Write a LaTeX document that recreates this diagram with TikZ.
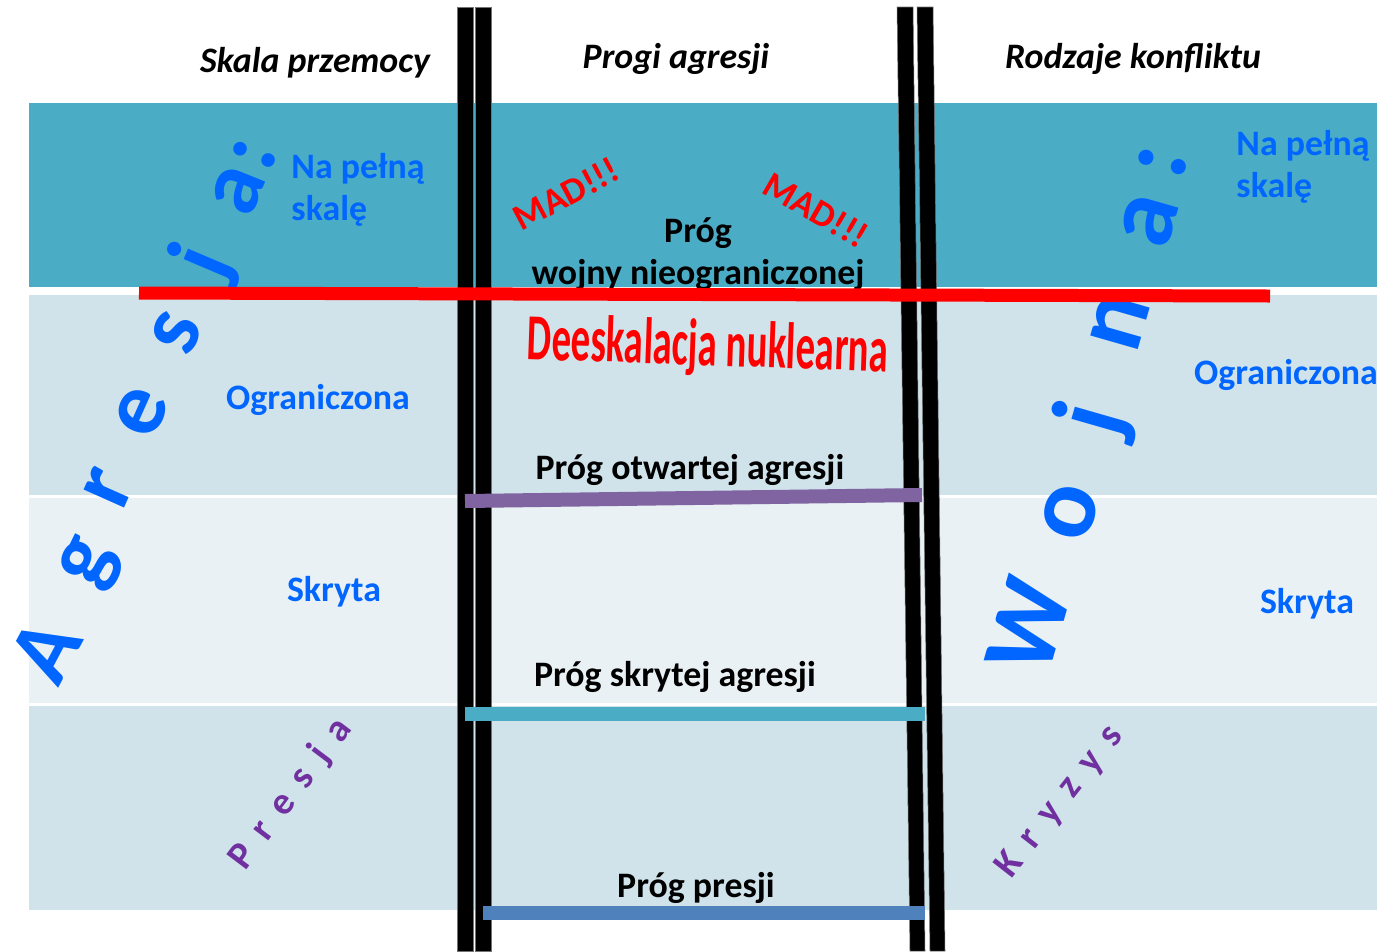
\documentclass[tikz,border=0pt]{standalone}
\usepackage{fontspec}
\usepackage{graphicx}
\setmainfont{Carlito}
\definecolor{bandtop}{HTML}{4BACC6}
\definecolor{bandmid}{HTML}{D0E3EA}
\definecolor{bandlow}{HTML}{E9F1F5}
\definecolor{kindblue}{HTML}{0066FF}
\definecolor{kindpurple}{HTML}{7030A0}
\definecolor{rungpurple}{HTML}{8064A2}
\definecolor{rungblue}{HTML}{4F81BD}

\begin{document}
\begin{tikzpicture}[x=0.02cm,y=-0.02cm,
  lbl/.style={inner sep=0pt,font=\fontsize{20.4}{23.8}\selectfont\bfseries},
  head/.style={inner sep=0pt,font=\fontsize{20.4}{23.8}\selectfont\bfseries\itshape},
  kind/.style={lbl,text=kindblue},
  bigletter/.style={inner sep=0pt,text=kindblue,font=\fontsize{52}{52}\selectfont\bfseries},
  spaced/.style={inner sep=0pt,text=kindpurple,
    font=\fontsize{22}{24}\selectfont\bfseries\addfontfeature{LetterSpace=42}},
  mad/.style={inner sep=0pt,text=red,font=\fontsize{21}{22}\selectfont\bfseries},
  rung/.style={line width=0.28cm},
  rail/.style={fill=black,draw=black!55,line width=0.3pt}]

  \useasboundingbox (0,0) rectangle (1383,951);

  % Draw the four bands
  \fill [bandtop] (29,103) rectangle (1377,287);
  \fill [bandmid] (29,295) rectangle (1377,495);
  \fill [bandlow] (29,498) rectangle (1377,703);
  \fill [bandmid] (29,706) rectangle (1377,910);

  % Big letters on both sides
  \foreach \ch/\px/\py/\ang [count=\i] in
    {A/45/650/62, g/92/565/64, r/108/488/66, e/142/412/66,
     s/177/333/66, j/205/262/67, a/238/190/68, :/255/155/68}
    \node [bigletter,rotate=\ang] (agr\i) at (\px,\py) {\ch};
  \foreach \ch/\px/\py/\ang [count=\i] in
    {W/1028/626/74, o/1070/512/74, j/1095/420/74, n/1120/322/74,
     a/1150/220/74, :/1163/162/74}
    \node [bigletter,font=\fontsize{58}{58}\selectfont\bfseries,rotate=\ang] (woj\i) at (\px,\py) {\ch};

  % Draw ladder rails
  \draw [rail] (457,7) rectangle (473,951);
  \draw [rail] (475,7) rectangle (491,951);
  \draw [rail] (897,7) -- (913,7) -- (925,951) -- (910,951) -- cycle;
  \draw [rail] (917,7) -- (933,7) -- (945,951) -- (930,951) -- cycle;

  % Column heads
  \node [head] (scale) at (315,63) {Skala przemocy};
  \node [head] (steps) at (676,59) {Progi agresji};
  \node [head] (kinds) at (1133,59) {Rodzaje konfliktu};

  % Left and right labels
  \node [kind,align=left] (fullL) at (358,190) {Na pełną\\skalę};
  \node [kind] (limitL) at (318,400) {Ograniczona};
  \node [kind] (hiddenL) at (334,592) {Skryta};
  \node [kind,align=left] (fullR) at (1303,167) {Na pełną\\skalę};
  \node [kind] (limitR) at (1286,375) {Ograniczona};
  \node [kind] (hiddenR) at (1307,604) {Skryta};
  \node [spaced,rotate=53] (presja) at (291,794) {Presja};
  \node [spaced,rotate=52] (kryzys) at (1060,802) {Kryzys};

  % Thresholds
  \node [mad,rotate=28] (mad1) at (566,194) {MAD!!!};
  \node [mad,rotate=-30] (mad2) at (816,210) {MAD!!!};
  \node [lbl,align=center] (total) at (698,254) {Próg\\wojny nieograniczonej};
  \node [inner sep=0pt,text=red,font=\fontsize{37.4}{40}\selectfont\bfseries,rotate=-2]
    (deesc) at (708,348) {\scalebox{0.59}[1]{Deeskalacja nuklearna}};
  \node [lbl] (open) at (690,470) {Próg otwartej agresji};
  \node [lbl] (covert) at (675,677) {Próg skrytej agresji};
  \node [lbl] (press) at (696,888) {Próg presji};

  % Draw the rungs
  \draw [rung,rungpurple] (465,501) -- (922,495);
  \draw [rung,bandtop] (465,714) -- (925,714);
  \draw [rung,rungblue] (483,913) -- (925,913);
  \draw [line width=0.26cm,red] (139,293) -- (1270,296);

\end{tikzpicture}
\end{document}
